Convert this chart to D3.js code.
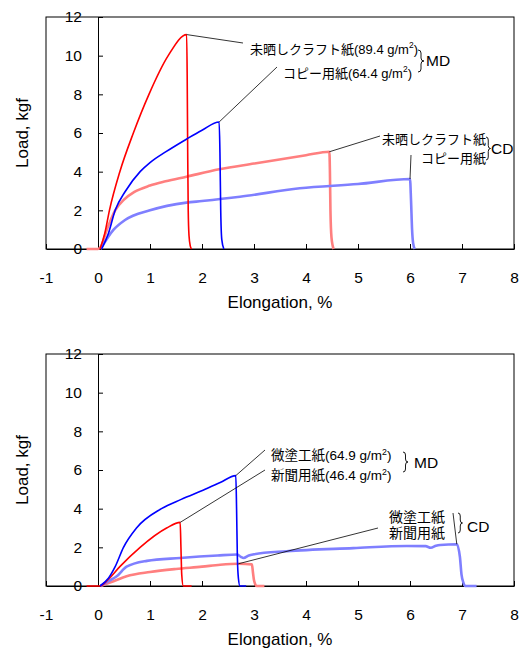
<!DOCTYPE html>
<html>
<head>
<meta charset="utf-8">
<script src="https://cdn.jsdelivr.net/npm/d3@7"></script>
<style>
  body { margin: 0; background: #fff; }
  svg text { font-family: "Liberation Sans", Arial, "Noto Sans CJK JP", sans-serif; fill: #000; }
</style>
</head>
<body>
<div id="chart"></div>
<script>
// tick values shared by both panels
const xTicks = [-1, 0, 1, 2, 3, 4, 5, 6, 7, 8];
const yTicks = [0, 2, 4, 6, 8, 10, 12];

// upper panel: unbleached kraft paper and copy paper, [elongation %, load kgf]
const kraftMD = [[0.04, 0], [0.13, 0.8], [0.22, 2], [0.42, 4], [0.68, 6], [0.98, 8], [1.35, 10], [1.705, 11.09],
  [1.715, 9], [1.725, 5], [1.735, 2], [1.75, 0.7], [1.775, 0.15], [1.8, 0]];
const copyMD = [[0.07, 0], [0.2, 0.8], [0.33, 2], [0.53, 3], [0.81, 4], [1.0, 4.47], [1.3, 5.02], [1.7, 5.68], [2.0, 6.14],
  [2.33, 6.57], [2.345, 5], [2.36, 2], [2.38, 0.5], [2.42, 0]];
const kraftCD = [[-0.22, 0], [0, 0], [0.05, 0.1], [0.17, 1], [0.33, 2], [0.5, 2.55], [0.7, 2.95], [1.0, 3.28], [1.3, 3.5],
  [1.7, 3.74], [2.33, 4.12], [3.0, 4.42], [4.0, 4.85], [4.45, 5.03], [4.46, 4], [4.47, 2], [4.49, 0.6], [4.53, 0]];
const copyCD = [[0.05, 0], [0.3, 1], [0.52, 1.5], [1.0, 2.0], [1.7, 2.4], [2.0, 2.48], [2.73, 2.7], [3.88, 3.14], [5.0, 3.36],
  [6.0, 3.62], [6.02, 2.5], [6.04, 1], [6.06, 0.3], [6.09, 0]];

// lower panel: coated paper and newsprint
const coatedMD = [[0.04, 0], [0.2, 0.4], [0.33, 1], [0.49, 2], [0.74, 3], [1.22, 4], [1.6, 4.48], [2.06, 5], [2.35, 5.35],
  [2.65, 5.71], [2.665, 4], [2.68, 1.5], [2.7, 0.4], [2.73, 0], [2.85, 0]];
const newsMD = [[-0.22, 0], [0.04, 0], [0.2, 0.35], [0.42, 1], [0.81, 2], [1.32, 3], [1.58, 3.29],
  [1.595, 2], [1.61, 0.6], [1.64, 0], [1.8, 0]];
const coatedCD = [[0.05, 0], [0.2, 0.25], [0.36, 0.5], [0.55, 1.0], [0.94, 1.3], [1.58, 1.45], [2.3, 1.58], [2.68, 1.63],
  [2.75, 1.5], [2.8, 1.45], [2.9, 1.58], [3.0, 1.64], [3.63, 1.8], [4.91, 1.96], [5.94, 2.07], [6.3, 2.06], [6.4, 1.98],
  [6.5, 2.08], [6.58, 2.12], [6.9, 2.16], [6.96, 1.5], [6.99, 0.6], [7.03, 0.15], [7.06, 0], [7.28, 0]];
const newsCD = [[0.05, 0], [0.3, 0.25], [0.55, 0.5], [1.0, 0.72], [1.5, 0.88], [2.0, 1.0], [2.35, 1.1], [2.7, 1.15],
  [2.96, 1.12], [2.98, 0.7], [3.0, 0.3], [3.05, 0], [3.2, 0]];

const RED = "#ff0000", BLUE = "#0000ff", PINK = "#ff7f7f", LILAC = "#7f7fff";

const svg = d3.select("#chart").append("svg")
    .attr("width", 520).attr("height", 650);

const x = d3.scaleLinear().domain([-1, 8]).range([46, 514]);

// draws one panel (frame, axes, curves) and returns its y scale
function panel(top, bottom, curves) {
    const y = d3.scaleLinear().domain([0, 12]).range([bottom, top]);
    const g = svg.append("g");

    g.append("rect")
        .attr("x", x(-1)).attr("y", top)
        .attr("width", x(8) - x(-1)).attr("height", bottom - top)
        .attr("fill", "none").attr("stroke", "#000");

    // x axis along the bottom, ticks pointing inwards
    g.append("g").attr("transform", "translate(0," + bottom + ")")
        .call(d3.axisBottom(x).tickValues(xTicks).tickSizeInner(-5).tickSizeOuter(0)
            .tickPadding(23).tickFormat(d => String(d)))
        .attr("font-size", 15.5).attr("font-family", null);

    // y axis drawn at elongation 0
    g.append("g").attr("transform", "translate(" + x(0) + ",0)")
        .call(d3.axisLeft(y).tickValues(yTicks).tickSizeInner(-5).tickSizeOuter(0).tickPadding(16))
        .attr("font-size", 15.5).attr("font-family", null);

    g.append("text").attr("x", (x(-1) + x(8)) / 2).attr("y", bottom + 59)
        .attr("text-anchor", "middle").attr("font-size", 17).text("Elongation, %");
    g.append("text").attr("transform", "translate(28," + (top + bottom) / 2 + ") rotate(-90)")
        .attr("text-anchor", "middle").attr("font-size", 17).text("Load, kgf");

    const line = d3.line().x(d => x(d[0])).y(d => y(d[1])).curve(d3.curveMonotoneX);
    curves.forEach(c => {
        g.append("path").attr("d", line(c.data))
            .attr("fill", "none").attr("stroke", c.color).attr("stroke-width", c.width)
            .attr("stroke-linejoin", "round");
    });
    return { g, y };
}

// thin black leader from a data point to a label
function leader(p, pt, tx, ty) {
    p.g.append("line")
        .attr("x1", x(pt[0])).attr("y1", p.y(pt[1]))
        .attr("x2", tx).attr("y2", ty)
        .attr("stroke", "#000").attr("stroke-width", 0.8);
}

// label made of a Japanese name and an optional grammage with m² superscript
function label(p, tx, ty, name, gram, size, anchor) {
    const t = p.g.append("text").attr("x", tx).attr("y", ty)
        .attr("font-size", size).attr("text-anchor", anchor || "start");
    t.append("tspan").text(name);
    if (gram) {
        t.append("tspan").text("(" + gram + " g/m");
        t.append("tspan").attr("font-size", size * 0.65).attr("dy", -size * 0.4).text("2");
        t.append("tspan").attr("dy", size * 0.4).text(")");
    }
}

// right-facing curly brace
function brace(p, bx, y0, y1, w) {
    const ym = (y0 + y1) / 2, m = bx + w / 2, q = 3;
    p.g.append("path")
        .attr("d", `M${bx},${y0} Q${m},${y0} ${m},${y0 + q} L${m},${ym - q} Q${m},${ym} ${bx + w},${ym}`
            + ` Q${m},${ym} ${m},${ym + q} L${m},${y1 - q} Q${m},${y1} ${bx},${y1}`)
        .attr("fill", "none").attr("stroke", "#000").attr("stroke-width", 0.9);
}

function peak(s) {
    return s.reduce((a, b) => b[1] > a[1] ? b : a);
}

// upper panel
const up = panel(17, 249, [
    { data: kraftCD, color: PINK, width: 2.6 },
    { data: copyCD, color: LILAC, width: 2.6 },
    { data: kraftMD, color: RED, width: 1.6 },
    { data: copyMD, color: BLUE, width: 1.6 }
]);
leader(up, peak(kraftMD), 243, 43);
leader(up, peak(copyMD), 277, 67);
label(up, 250, 53.5, "未晒しクラフト紙", "89.4", 13);
label(up, 283, 77.5, "コピー用紙", "64.4", 13);
brace(up, 418, 50, 72, 6);
up.g.append("text").attr("x", 426).attr("y", 66).attr("font-size", 15.5).text("MD");
leader(up, peak(kraftCD), 380, 136);
leader(up, peak(copyCD), 411, 155);
label(up, 486, 144, "未晒しクラフト紙", null, 13, "end");
label(up, 486, 163, "コピー用紙", null, 13, "end");
brace(up, 486, 137, 160, 4.5);
up.g.append("text").attr("x", 491).attr("y", 154).attr("font-size", 15.5).text("CD");

// lower panel
const lo = panel(354, 586, [
    { data: newsCD, color: PINK, width: 2.6 },
    { data: coatedCD, color: LILAC, width: 2.6 },
    { data: newsMD, color: RED, width: 1.6 },
    { data: coatedMD, color: BLUE, width: 1.6 }
]);
leader(lo, peak(coatedMD), 265, 450);
leader(lo, peak(newsMD), 265, 470);
label(lo, 271, 460, "微塗工紙", "64.9", 13.5);
label(lo, 271, 480, "新聞用紙", "46.4", 13.5);
brace(lo, 403, 452, 472, 5);
lo.g.append("text").attr("x", 414).attr("y", 468).attr("font-size", 15.5).text("MD");
leader(lo, peak(newsCD), 378, 528);
leader(lo, peak(coatedCD), 453, 513);
label(lo, 445, 522, "微塗工紙", null, 14, "end");
label(lo, 445, 538, "新聞用紙", null, 14, "end");
brace(lo, 458, 513, 533, 4.5);
lo.g.append("text").attr("x", 467).attr("y", 532).attr("font-size", 15.5).text("CD");
</script>
</body>
</html>
